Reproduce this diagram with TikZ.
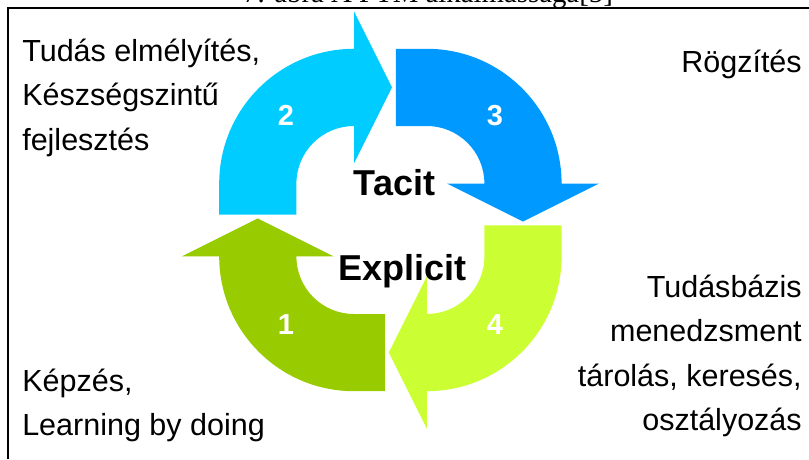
\documentclass[tikz,border=0pt]{standalone}
\usepackage{fontspec}
\setmainfont{Liberation Sans}
\newfontfamily\capfont{Liberation Serif}
\usetikzlibrary{positioning}
\definecolor{arrowone}{HTML}{99CC00}
\definecolor{arrowtwo}{HTML}{00CCFF}
\definecolor{arrowthree}{HTML}{0099FF}
\definecolor{arrowfour}{HTML}{CCFF33}

\begin{document}
\begin{tikzpicture}

    \useasboundingbox (0mm, 0mm) rectangle (202.25mm, 114.75mm); % 809 x 459 px at 0.25 mm per px

    % caption of the page, mostly cut away by the top edge, and the frame
    \node (cap) [font=\capfont\fontsize{20.5}{24}\selectfont, anchor=base, inner sep=0pt] at (107mm, 114.25mm) {7. ábra A PTM alkalmassága[5]};
    \coordinate (fbl) at (2mm, 0mm);
    \coordinate (ftl) at (2mm, 112.75mm);
    \coordinate (ftr) at (202.25mm, 112.75mm);
    \draw [line width=0.4mm] (fbl) -- (ftl) -- (ftr);

    % four curved arrows, each one the previous turned by -90 degrees round the centre
    \begin{scope}[x=1mm, y=1mm, shift={(97.6mm, 59.75mm)},
                  num/.style={text=white, font=\bfseries\fontsize{20.6}{24}\selectfont, inner sep=0pt}]
    \foreach \ang/\col/\num in {0/arrowtwo/2, -90/arrowthree/3, -180/arrowfour/4, -270/arrowone/1} {
        \begin{scope}[rotate=\ang]
            \fill [\col] (-42.8, 1.35) -- (-42.8, 9.1) arc[start angle=180, end angle=90, radius=33.7]
                -- (-9.1, 52.15) -- (0.4, 33.15) -- (-9.1, 14.15) -- (-9.1, 23.5)
                arc[start angle=90, end angle=180, radius=14.4] -- (-23.5, 1.35) -- cycle;
            \node [num] (n\num) at (-26.1, 26.1) {\num};
        \end{scope}
    }
    \end{scope}

    % labels: tacit / explicit in the middle, the four activities in the corners
    % (base of a multi-line node = baseline of its last line)
    \begin{scope}[every node/.style={inner sep=0pt},
                  mid/.style={font=\bfseries\fontsize{25.6}{30}\selectfont},
                  txt/.style={font=\fontsize{21.7}{31.3}\selectfont}]

        \node [mid, anchor=base] (tacit) at (98.6mm, 66mm) {Tacit};
        \node [mid, anchor=base] (expl)  at (100.5mm, 44.75mm) {Explicit};

        \node [txt, align=left, anchor=base west]   (deep)  at (5.5mm, 77.25mm) {Tudás elmélyítés,\\Készségszintű\\fejlesztés};
        \node [txt, anchor=base east]               (rec)   at (200.5mm, 96.75mm) {Rögzítés};
        \node [txt, align=left, anchor=base west]   (train) at (5.5mm, 6mm) {Képzés,\\Learning by doing};
        \node [txt, align=right, anchor=base east]  (kb)    at (200.5mm, 7.25mm) {Tudásbázis\\menedzsment\\tárolás, keresés,\\osztályozás};

    \end{scope}

\end{tikzpicture}
\end{document}
